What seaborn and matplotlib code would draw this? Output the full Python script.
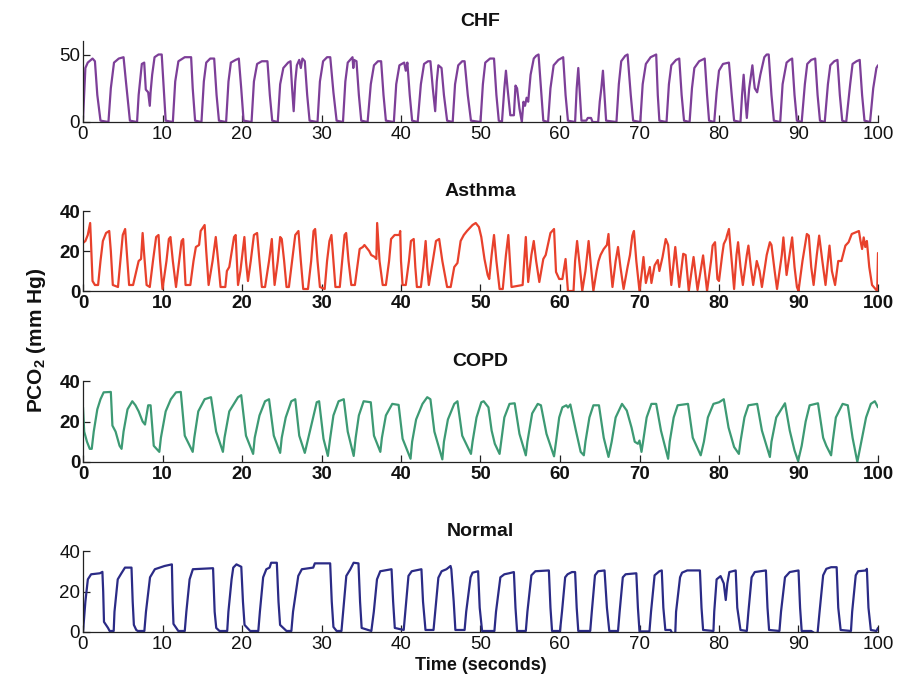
import matplotlib
matplotlib.use("Agg")
import matplotlib.pyplot as plt
import seaborn as sns
import pandas as pd

sns.set_theme(style="ticks")
plt.rcParams['font.family'] = ['Liberation Sans', 'DejaVu Sans']
plt.rcParams['mathtext.fontset'] = 'custom'
plt.rcParams['mathtext.rm'] = 'Liberation Sans'
plt.rcParams['mathtext.bf'] = 'Liberation Sans:bold'

# ---------------- data (time in s, PCO2 in mm Hg) ----------------
chf_t = [0.0, 0.3, 0.6, 1.2, 1.5, 1.8, 2.2, 3.2,
         3.5, 3.9, 4.5, 5.1, 5.4, 5.9, 6.8,
         7.0, 7.4, 7.7, 7.9, 8.2, 8.4, 8.5, 8.7, 9.0, 9.5, 9.9, 10.1, 10.4, 11.3,
         11.6, 12.0, 12.8, 13.6, 13.8, 14.1, 14.9,
         15.2, 15.5, 16.0, 16.5, 16.8, 17.1, 18.0,
         18.3, 18.6, 19.2, 19.6, 19.9, 20.2, 21.2,
         21.5, 21.9, 22.5, 23.2, 23.5, 23.8, 24.5,
         24.8, 25.2, 25.8, 26.1, 26.3, 26.5, 26.7, 26.9, 27.2, 27.4, 27.6, 27.9, 28.2, 28.5, 29.5,
         29.8, 30.2, 30.7, 31.1, 31.5, 31.9, 32.7,
         33.0, 33.3, 33.9, 34.0, 34.1, 34.4, 34.7, 35.0, 35.8,
         36.2, 36.6, 37.1, 37.5, 37.8, 38.1, 39.1,
         39.4, 39.8, 40.4, 40.6, 40.8, 41.1, 41.4, 42.1,
         42.5, 42.9, 43.4, 43.7, 44.0, 44.3, 44.5, 44.7, 45.1, 45.4, 45.8, 46.5,
         46.8, 47.2, 47.7, 48.0, 48.4, 48.8, 50.0,
         50.3, 50.6, 51.2, 51.7, 52.0, 52.3, 52.7,
         53.0, 53.2, 53.4, 53.75, 54.2, 54.4, 54.6, 54.9, 55.2, 55.4, 55.6, 55.8, 56.0, 56.3, 56.7, 57.0, 57.3, 57.6, 57.9, 58.5,
         58.8, 59.2, 59.8, 60.4, 60.7, 61.0, 61.9,
         62.1, 62.3, 62.5, 62.7, 63.3, 63.5, 63.9, 64.1, 64.8,
         65.0, 65.2, 65.4, 65.6, 65.8, 67.1,
         67.4, 67.7, 68.2, 68.5, 68.9, 69.2, 70.1,
         70.4, 70.8, 71.4, 72.1, 72.3, 72.5, 73.4,
         73.7, 74.0, 74.6, 75.0, 75.3, 75.6, 76.3,
         76.6, 76.9, 77.5, 78.2, 78.5, 78.75, 79.4,
         79.7, 80.0, 80.5, 81.25, 81.6, 81.9, 82.7,
         82.9, 83.1, 83.3, 83.5, 83.8, 84.2, 84.4, 84.5, 84.8, 85.2, 85.7, 86.0, 86.25, 86.6, 86.9, 87.7,
         88.0, 88.5, 88.9, 89.2, 89.5, 89.8, 90.4,
         90.8, 91.1, 91.6, 92.1, 92.4, 92.7, 93.3,
         93.7, 94.0, 94.5, 94.9, 95.2, 95.5, 96.0,
         96.5, 96.8, 97.3, 97.7, 98.0, 98.3, 99.0,
         99.4, 99.8, 100.0]
chf_v = [2, 40, 44, 47, 45, 20, 1, 0,
         25, 44, 47, 48, 30, 1, 0,
         20, 43, 44, 24, 22, 12, 22, 35, 48, 50, 50, 30, 1, 0,
         30, 45, 48, 48, 25, 1, 0,
         30, 44, 47, 47, 20, 1, 0,
         30, 44, 46, 47, 25, 1, 0,
         30, 43, 45, 45, 20, 1, 0,
         28, 40, 44, 45, 25, 8, 30, 42, 46, 40, 47, 45, 20, 1, 0,
         30, 45, 48, 48, 22, 1, 0,
         30, 44, 48, 40, 46, 45, 20, 1, 0,
         28, 42, 45, 45, 20, 1, 0,
         28, 42, 44, 38, 44, 20, 1, 0,
         28, 43, 45, 45, 25, 8, 30, 42, 40, 20, 1, 0,
         28, 42, 45, 45, 20, 1, 0,
         28, 44, 47, 47, 20, 1, 0,
         25, 38, 25, 5, 5, 27, 25, 10, 0, 15, 12, 18, 15, 35, 47, 49, 50, 25, 1, 0,
         25, 42, 46, 48, 20, 1, 0,
         25, 40, 20, 1, 1, 3, 3, 0, 0,
         15, 25, 38, 20, 1, 0,
         28, 45, 49, 50, 20, 1, 0,
         28, 43, 48, 50, 20, 1, 0,
         28, 42, 46, 47, 20, 1, 0,
         25, 40, 45, 47, 20, 1, 0,
         22, 38, 43, 44, 20, 1, 0,
         20, 35, 18, 3, 25, 42, 30, 25, 22, 35, 48, 50, 50, 20, 1, 0,
         28, 44, 46, 47, 20, 1, 0,
         28, 43, 46, 47, 20, 1, 0,
         28, 42, 45, 46, 20, 1, 0,
         28, 43, 45, 46, 20, 1, 0,
         25, 40, 42]

asthma_t = [0.0, 0.3, 0.6, 0.9, 1.0, 1.2, 1.5, 1.9,
            2.2, 2.5, 2.9, 3.3, 3.5, 3.75, 4.4,
            4.7, 5.0, 5.3, 5.5, 5.8, 6.3,
            6.7, 7.0, 7.3, 7.5, 7.7, 8.0, 8.4,
            8.8, 9.2, 9.5, 9.7, 10.0,
            10.5, 10.8, 11.0, 11.3, 11.7,
            12.1, 12.4, 12.6, 12.9, 13.5,
            13.9, 14.2, 14.6, 14.8, 15.3, 15.5, 15.8,
            16.3, 16.7, 17.0, 17.3, 17.9,
            18.1, 18.4, 19.0, 19.2, 19.5,
            19.8, 20.3, 20.5, 20.75,
            21.1, 21.5, 21.9, 22.2, 22.5, 22.9,
            23.4, 23.75, 23.9, 24.1,
            24.5, 24.8, 25.0, 25.3, 25.6, 25.9,
            26.3, 26.7, 27.1, 27.4, 27.7, 28.3,
            28.7, 29.0, 29.2, 29.5, 29.8, 30.4,
            30.7, 31.0, 31.25, 31.5, 31.75, 32.3,
            32.6, 32.9, 33.1, 33.4, 33.75, 34.2,
            34.6, 34.8, 35.2, 35.4, 35.8, 36.0, 36.25, 36.7, 36.9, 37.0, 37.3, 37.7, 38.1,
            38.5, 38.75, 39.2, 39.8, 39.9, 40.0, 40.2, 40.6,
            41.0, 41.25, 41.6, 41.8, 42.0, 42.5,
            42.8, 43.1, 43.3, 43.5,
            44.0, 44.4, 44.8, 45.2, 45.8, 46.25,
            46.7, 47.1, 47.5, 47.9, 48.3, 49.0, 49.4, 49.8, 50.1, 50.5, 50.9, 51.1,
            51.4, 51.7, 52.0, 52.4, 52.8,
            53.2, 53.5, 53.7, 53.9, 55.3,
            55.5, 55.7, 55.85, 56.0, 56.4, 56.7, 57.0, 57.4, 57.9, 58.2, 58.8, 59.25, 59.5, 59.9, 60.3, 60.7, 61.0, 61.7,
            61.9, 62.15, 62.5, 62.8, 63.2, 63.6, 63.9, 64.2,
            64.6, 64.85, 65.1, 65.5, 65.9, 66.1, 66.3, 66.6,
            67.0, 67.3, 67.6, 68.0, 68.5, 68.8, 69.1, 69.3, 69.6, 70.0,
            70.25, 70.5, 70.8, 71.3, 71.5, 71.9, 72.3, 72.5, 72.9, 73.3, 73.6, 74.0,
            74.5, 75.0, 75.5, 75.8, 76.2, 76.8, 77.3, 78.0, 78.5,
            79.0, 79.2, 79.5, 79.8, 80.0,
            80.4, 80.6, 80.9, 81.0, 81.25, 81.6, 81.9,
            82.2, 82.4, 82.7, 83.0, 83.5, 83.7, 84.0, 84.3, 84.75, 85.1, 85.4,
            86.0, 86.4, 86.6, 87.0, 87.3, 87.9, 88.1, 88.5, 89.2, 89.5, 89.8, 90.0,
            90.5, 91.05, 91.3, 91.6, 91.9, 92.3, 92.6, 93.0, 93.4, 93.9, 94.2, 94.6, 95.0, 95.4, 95.9, 96.3,
            96.7, 97.6, 97.8, 98.0, 98.2, 98.4, 98.6, 98.9, 99.25, 99.9, 100.0]
asthma_v = [24, 25, 28, 34, 25, 5, 3, 3,
            15, 25, 29, 30, 20, 3, 2,
            15, 28, 31, 20, 3, 3,
            10, 15, 16, 29, 18, 3, 2,
            15, 27, 28, 15, 1,
            15, 26, 27, 15, 2,
            15, 25, 26, 3, 3,
            15, 22, 23, 30, 33, 20, 3,
            15, 27, 15, 2, 2,
            10, 12, 27, 28, 3,
            10, 27, 15, 5,
            15, 28, 29, 15, 2, 2,
            15, 26, 15, 3,
            15, 27, 26, 15, 2, 2,
            15, 28, 30, 15, 1, 1,
            15, 30, 31, 15, 2, 1,
            15, 25, 28, 15, 2, 2,
            15, 28, 29, 15, 3, 3,
            15, 21, 22, 23, 21, 20, 18, 17, 16, 34, 15, 3, 3,
            15, 26, 28, 28, 30, 15, 3, 3,
            15, 25, 26, 12, 2, 2,
            12, 25, 12, 3,
            15, 25, 26, 15, 2, 2,
            12, 14, 25, 28, 30, 33, 34, 32, 27, 16, 8, 6,
            18, 28, 15, 1, 1,
            18, 28, 15, 2, 3,
            15, 27, 15, 4.5, 18, 25, 15, 4.5, 16, 18, 29, 31, 9.5, 6, 6, 16, 0, 0,
            15, 25, 12, 0, 10, 25, 12, 0,
            10, 15, 18, 21, 23, 28.5, 15, 2,
            15, 22, 12, 1, 12, 18, 27.7, 30, 15, 0,
            8, 17, 4, 12, 4, 12.8, 15.5, 10, 17, 26, 23, 3,
            22, 2, 18.6, 18, 0, 17, 0.5, 17.8, 0,
            15, 22.7, 24.4, 6, 5,
            18, 23.5, 26, 27.7, 31, 15, 1,
            18, 24.4, 12, 3, 18, 22.7, 12, 3, 15, 10, 2,
            18, 24.4, 23, 10, 1, 18, 26.8, 8, 26.8, 12, 2, 0,
            15, 28.5, 27.7, 12, 3, 18, 27.7, 15, 3, 22.7, 10, 3, 15, 15, 22.7, 24.4,
            28.5, 30, 25, 21, 26.8, 22, 25, 12, 3, 0, 19]

copd_t = [0.0, 0.15, 0.5, 0.85, 1.1, 1.35, 1.8, 2.2, 2.6, 3.5, 3.7, 4.1, 4.6, 4.85,
          5.1, 5.6, 6.2, 6.6, 7.0, 7.5, 7.8, 8.2, 8.5, 8.9, 9.6,
          9.8, 10.4, 11.05, 11.7, 12.3, 12.8, 13.8,
          14.0, 14.5, 15.3, 16.1, 16.75, 17.6,
          17.8, 18.4, 19.5, 19.9, 20.5, 21.4,
          21.6, 22.2, 22.9, 23.4, 24.0, 24.8,
          25.0, 25.5, 26.2, 26.7, 27.2, 27.9,
          28.35, 28.9, 29.4, 29.7, 30.25, 30.8,
          31.1, 31.5, 32.15, 32.8, 33.3, 34.05,
          34.3, 34.7, 35.3, 36.2, 36.6, 37.4,
          37.6, 38.1, 38.9, 39.7, 40.2, 41.2,
          41.4, 41.9, 42.7, 43.3, 43.7, 44.2, 45.2,
          45.4, 45.9, 46.7, 47.1, 47.7, 48.8,
          49.0, 49.5, 50.1, 50.4, 51.0, 51.4, 51.8, 52.4,
          52.6, 53.0, 53.65, 54.3, 54.9, 55.7,
          55.9, 56.5, 57.2, 57.6, 58.3, 59.25,
          59.5, 59.9, 60.3, 60.8, 61.0, 61.3, 62.0, 62.6, 63.0,
          63.2, 63.7, 64.2, 64.9, 65.5, 66.1,
          66.5, 67.0, 67.8, 68.4, 69.0, 69.4, 69.8, 70.0, 70.25,
          70.45, 70.9, 71.5, 72.1, 72.7, 73.6,
          73.8, 74.3, 74.8, 76.1, 76.7, 77.7,
          78.1, 78.6, 79.3, 80.0, 80.6, 81.2, 81.9, 82.5,
          82.7, 83.2, 83.7, 84.8, 85.4, 86.4,
          86.6, 87.2, 88.3, 88.9, 89.5, 89.95,
          90.4, 90.9, 91.4, 92.45, 93.1, 93.5, 94.1,
          94.3, 94.7, 95.55, 96.2, 96.8, 97.4,
          97.8, 98.5, 99.1, 99.6, 100.0]
copd_v = [27, 15, 10, 6.5, 6.5, 15, 26, 31, 34.4, 34.6, 18, 15, 8, 6.5,
          15, 26, 30, 28, 25, 20, 18.5, 28, 28, 8, 5,
          12, 25, 31, 34.4, 34.6, 13, 5,
          12, 25, 31, 32, 15, 5,
          12, 25, 32, 33, 13, 4,
          12, 23, 30, 31, 13, 4.5,
          12, 22, 30, 31, 13, 4.5,
          12, 21, 29.5, 30, 11.5, 3,
          12, 23, 30, 31, 15, 3,
          12, 23, 30, 29.5, 13, 5,
          12, 23, 28.7, 28.2, 11.5, 1.6,
          10, 21, 28.7, 32, 31, 15, 1.3,
          10, 21, 28.7, 30, 13, 4,
          10, 22, 29.5, 30, 27, 15.5, 9, 4,
          10, 22, 28.7, 29, 13.9, 3.3,
          10, 24, 28.7, 28, 13.9, 2.8,
          10, 22, 27, 28, 26.9, 28.4, 15.5, 5, 3.3,
          10, 22, 28, 28, 12, 2.5,
          10, 22, 28.7, 25.4, 17, 10, 9, 10.6, 5,
          10, 22, 28.7, 28.7, 15.5, 1.6,
          10, 22, 28, 28.7, 12, 3.3,
          10, 22, 28.7, 29.5, 31, 17, 7.4, 4,
          10, 22, 28, 28.7, 15.5, 2.5,
          10, 22, 29, 15.5, 5.7, 0.5,
          8, 20, 28, 29, 12, 8, 3.3,
          10, 22, 28.7, 28, 12, 0,
          8, 22, 28.7, 30, 27]

normal_t = [0.0, 0.3, 0.61, 1.02, 2.13, 2.44, 2.54, 2.64, 3.15, 3.35, 3.86,
            3.96, 4.37, 4.83, 5.28, 6.1, 6.25, 6.4, 6.7, 6.9, 7.72,
            7.92, 8.43, 9.04, 9.65, 10.26, 11.18, 11.28, 11.38, 11.99, 12.8,
            13.0, 13.41, 13.82, 16.36, 16.56, 16.76, 17.17, 18.14,
            18.29, 18.69, 18.9, 19.3, 19.91, 20.12, 20.32, 21.03, 22.05,
            22.25, 22.66, 23.06, 23.47, 23.67, 24.38, 24.59, 24.79, 25.6, 26.21,
            26.42, 27.08, 27.53, 28.96, 29.16, 31.09, 31.29, 31.5, 31.9, 32.51,
            32.72, 33.12, 33.63, 34.04, 34.65, 34.85, 35.05, 36.27,
            36.58, 36.98, 37.39, 38.81, 39.01, 39.22, 40.34,
            40.54, 40.94, 41.35, 42.57, 42.77, 43.08, 44.09,
            44.3, 44.7, 45.11, 45.72, 46.23, 46.33, 46.63, 46.84, 48.0,
            48.2, 48.75, 49.0, 49.7, 49.9, 50.2, 51.75,
            51.95, 52.5, 53.0, 53.6, 54.2, 54.4, 54.6, 55.7,
            55.9, 56.4, 56.9, 58.6, 58.8, 59.0, 60.0,
            60.25, 60.65, 60.95, 61.5, 61.9, 62.1, 62.3, 63.8,
            64.0, 64.4, 64.8, 65.6, 65.9, 66.2, 67.3,
            67.5, 67.9, 68.25, 69.6, 69.8, 70.0, 71.25,
            71.45, 71.9, 72.5, 72.8, 73.0, 73.25, 73.9, 74.1, 74.5,
            74.6, 75.1, 75.35, 76.0, 77.6, 77.8, 78.0, 79.3,
            79.4, 79.7, 80.2, 80.6, 80.85, 81.05, 81.3, 82.1, 82.3, 82.7, 83.5,
            83.7, 84.1, 84.5, 85.9, 86.1, 86.3, 87.6,
            87.8, 88.3, 88.9, 90.0, 90.2, 90.4, 91.6, 92.0, 92.4,
            92.65, 93.1, 93.5, 94.1, 94.8, 95.0, 95.3, 96.6,
            96.75, 97.2, 97.5, 98.5, 98.6, 98.8, 99.1, 99.8, 100.0]
normal_v = [0, 15, 26, 28.5, 29, 29.7, 20, 5, 2, 0.5, 0.5,
            10, 26, 29, 31.8, 31.8, 15, 3.5, 1, 0.5, 0.5,
            10, 27, 31, 31.8, 32.6, 33.4, 15, 4, 0.5, 0.5,
            10, 26, 31, 31.5, 10, 2, 0.5, 0.5,
            10, 26, 31.8, 33.4, 32.2, 15, 3.5, 0.5, 0.5,
            10, 27, 31, 31.8, 34.2, 34.2, 15, 3.5, 0.5, 0.5,
            10, 27.7, 31, 31.8, 33.9, 33.9, 15, 2.5, 0.5, 0.5,
            10, 27.7, 31, 34.2, 33.9, 15, 2, 0.5,
            10, 26, 30, 31, 15, 2, 1,
            10, 27.7, 30, 31, 15, 1, 1,
            10, 26.8, 30, 31, 32.6, 31, 15, 1, 1,
            10, 27, 29.3, 30, 12, 0.5, 0.5,
            10, 27, 28.5, 29, 29.6, 12, 0.5, 0.5,
            10, 28, 30, 30.4, 12, 0.5, 0.5,
            10, 27, 28.5, 29.6, 29.6, 12, 0.5, 0.5,
            10, 28, 30, 30.4, 12, 0.5, 0.5,
            10, 27, 28.5, 29, 12, 0.3, 0.3,
            10, 28, 30, 30.4, 12, 1, 1, -0.5, -0.5,
            10, 27, 29.3, 30.4, 30.4, 12, 1, 0.5,
            10, 26, 27.6, 24, 15.8, 24, 29.6, 30.4, 12, 1, 0.5,
            10, 27, 29.6, 30.4, 12, 1, 0.5,
            10, 27, 29.6, 30.4, 12, 0.5, 0.5, -0.5, -0.5,
            10, 28, 31.2, 32, 32, 12, 1, 0.5,
            10, 28, 30, 30.4, 31.2, 12, 1, 0.5, 2]

panels = ["CHF", "Asthma", "COPD", "Normal"]
colors = ["#7d3f98", "#e8412c", "#3d9a74", "#2b2b86"]
ylims = [60, 40, 40, 40]
yticks = [[0, 50], [0, 20, 40], [0, 20, 40], [0, 20, 40]]
xticks = list(range(0, 101, 10))
bold_ticks = [False, True, True, False]
series = [(chf_t, chf_v), (asthma_t, asthma_v), (copd_t, copd_v), (normal_t, normal_v)]

# axes boxes in pixels: (top, bottom)
W, H = 901, 687
boxes = [(41, 122), (211, 291), (381, 462), (551, 632)]
left_px, right_px = 83, 878

fig = plt.figure(figsize=(W / 100, H / 100), dpi=100)
for name, col, ymax, yt, bt, (tt, vv), (top, bot) in zip(panels, colors, ylims, yticks,
                                                       bold_ticks, series, boxes):
    ax = fig.add_axes([left_px / W, 1 - bot / H, (right_px - left_px) / W, (bot - top) / H])
    df = pd.DataFrame({"t": tt, "v": vv})
    sns.lineplot(data=df, x="t", y="v", ax=ax, color=col, linewidth=1.6,
                 estimator=None, sort=False)
    ax.set_xlim(0, 100)
    ax.set_ylim(0, ymax)
    ax.set_xticks(xticks)
    ax.set_yticks(yt)
    ax.set_xlabel("")
    ax.set_ylabel("")
    for s in ["top", "right"]:
        ax.spines[s].set_visible(False)
    for s in ["left", "bottom"]:
        ax.spines[s].set_linewidth(0.9)
        ax.spines[s].set_color("#222222")
    ax.tick_params(axis="both", direction="in", length=5, width=0.9, colors="#222222",
                   labelsize=13.5, labelcolor="#111111")
    ax.tick_params(axis="x", pad=3)
    ax.tick_params(axis="y", pad=2)
    fw = "bold" if bt else "normal"
    for lab in ax.get_xticklabels() + ax.get_yticklabels():
        lab.set_fontweight(fw)
    ax.set_title(name, fontsize=14, fontweight="bold", pad=11, color="#111111")

fig.text(0.040, 0.505, r"PCO$_{\mathbf{2}}$ (mm Hg)", rotation=90, ha="center", va="center",
         fontsize=15, fontweight="bold", color="#111111")
fig.text((left_px + right_px) / 2 / W, 1 - 665 / H, "Time (seconds)", ha="center", va="center",
         fontsize=13, fontweight="bold", color="#111111")

fig.savefig("out.png", dpi=100, facecolor="white")
